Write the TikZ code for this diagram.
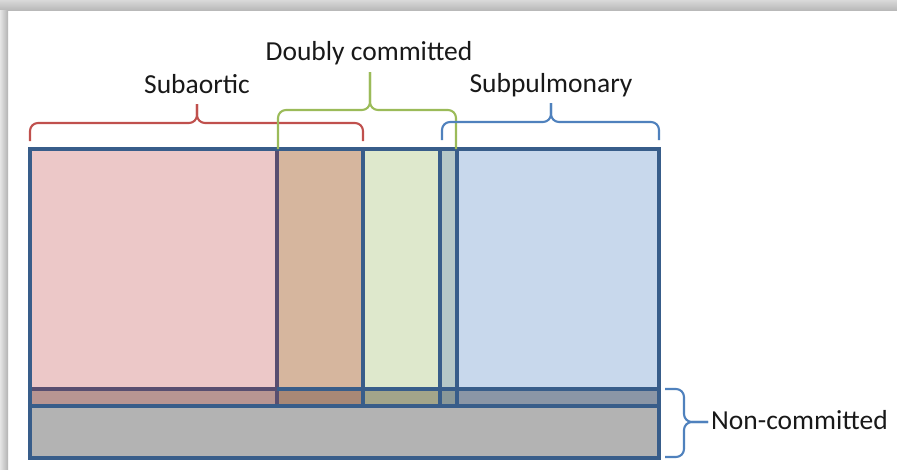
\documentclass[tikz,border=0pt]{standalone}
\usepackage{fontspec}
\setmainfont{Carlito}
\definecolor{cpink}{RGB}{236,200,200}
\definecolor{cbrown}{RGB}{214,182,158}
\definecolor{cgreen}{RGB}{222,232,204}
\definecolor{cteal}{RGB}{182,200,200}
\definecolor{cblue}{RGB}{200,216,236}
\definecolor{spink}{RGB}{184,149,146}
\definecolor{sbrown}{RGB}{168,136,118}
\definecolor{sgreen}{RGB}{163,165,138}
\definecolor{steal}{RGB}{138,152,152}
\definecolor{sblue}{RGB}{139,150,166}
\definecolor{cgray}{RGB}{179,179,179}
\definecolor{bord}{RGB}{56,93,138}
\definecolor{bordp}{RGB}{88,78,112}
\definecolor{bred}{RGB}{192,80,77}
\definecolor{bgreen}{RGB}{155,187,89}
\definecolor{bblue}{RGB}{79,129,189}
\tikzset{
  lbl/.style={font=\fontsize{27.5}{32}\selectfont, text=black!90, inner sep=0pt},
  brc/.style={line width=2.1pt, rounded corners=8pt},
  edge/.style={line width=3.4pt, draw=bord},
}
\begin{document}
\begin{tikzpicture}[x=1pt,y=-1pt]
\useasboundingbox (0,0) rectangle (897,469);
\fill[white] (0,0) rectangle (897,469);
\shade[top color=gray!30, bottom color=gray!55] (0,0) rectangle (897,10);
\shade[left color=gray!20, right color=gray!60] (0,10) rectangle (8,469);
% columns
\fill[cpink] (30,149) rectangle (277,389);
\fill[cbrown] (277,149) rectangle (363,389);
\fill[cgreen] (363,149) rectangle (440,389);
\fill[cteal] (440,149) rectangle (457,389);
\fill[cblue] (457,149) rectangle (659,389);
% strip
\fill[spink] (30,389) rectangle (277,406);
\fill[sbrown] (277,389) rectangle (363,406);
\fill[sgreen] (363,389) rectangle (440,406);
\fill[steal] (440,389) rectangle (457,406);
\fill[sblue] (457,389) rectangle (659,406);
% bottom
\fill[cgray] (30,406) rectangle (659,458);
% lines
\draw[edge, draw=bordp] (277,149) -- (277,406);
\draw[edge, draw=bordp] (30,389) -- (277,389);
\draw[edge] (277,389) -- (659,389);
\draw[edge] (363,149) -- (363,406);
\draw[edge] (440,149) -- (440,406);
\draw[edge] (457,149) -- (457,406);
\draw[edge] (30,406) -- (659,406);
\draw[edge] (30,149) rectangle (659,458);
% braces
\draw[brc, draw=bred] (30,141) -- (30,123) -- (197,123) -- (197,104);
\draw[brc, draw=bred] (363,141) -- (363,123) -- (197,123) -- (197,104);
\draw[brc, draw=bgreen] (278,149) -- (278,110) -- (370,110) -- (370,72);
\draw[brc, draw=bgreen] (456,149) -- (456,110) -- (370,110) -- (370,72);
\draw[brc, draw=bblue] (442,140) -- (442,122) -- (551,122) -- (551,103);
\draw[brc, draw=bblue] (659,140) -- (659,122) -- (551,122) -- (551,103);
\draw[brc, draw=bblue] (665,389) -- (684,389) -- (684,422) -- (708,422);
\draw[brc, draw=bblue] (665,457) -- (684,457) -- (684,422) -- (708,422);
% labels
\node[lbl, anchor=base] (sub) at (197,93) {Subaortic};
\node[lbl, anchor=base] (dbl) at (369,60) {Doubly committed};
\node[lbl, anchor=base] (pul) at (551,92) {Subpulmonary};
\node[lbl, anchor=base west] (non) at (711,429) {Non-committed};
\end{tikzpicture}
\end{document}
